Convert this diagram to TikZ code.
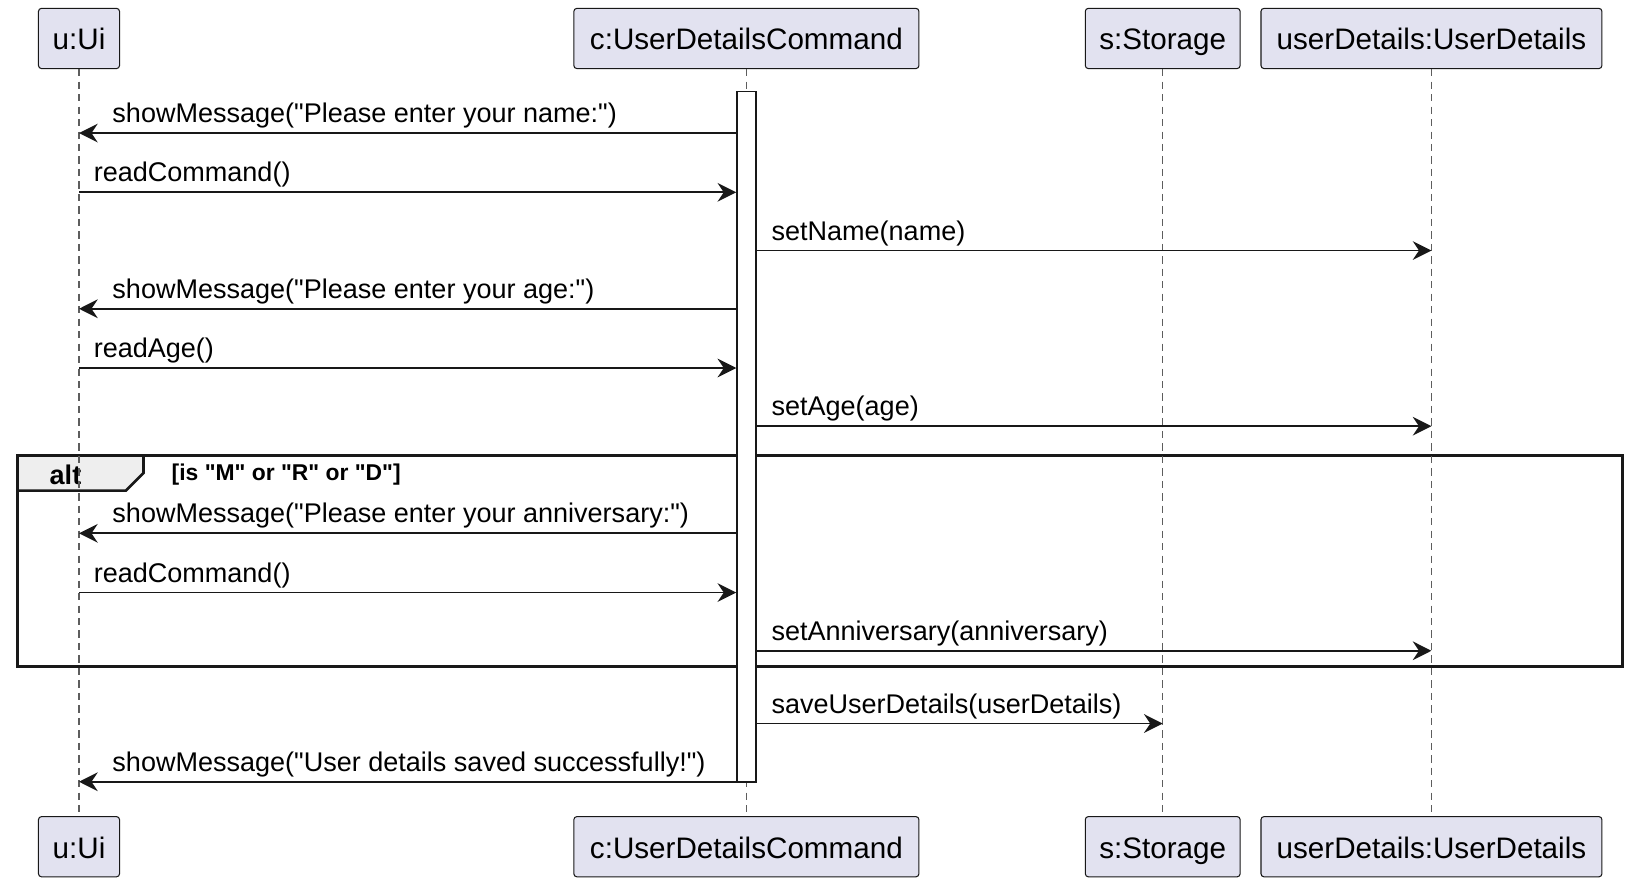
\documentclass[tikz,border=0pt]{standalone}
\usepackage{fontspec}
\setmainfont{Liberation Sans}[Ligatures=TeXOff]
\usetikzlibrary{arrows.meta}
\definecolor{headfill}{HTML}{E2E2F0}
\definecolor{ink}{HTML}{181818}
\definecolor{tabfill}{HTML}{EEEEEE}
\tikzset{
  head/.style={draw=ink, fill=headfill, rounded corners=3pt, line width=1pt,
    minimum height=58pt, inner sep=0pt, text height=24pt, text depth=2pt,
    font=\fontsize{28.5}{30}\selectfont},
  life/.style={draw=ink!70, dash pattern=on 7pt off 5pt, line width=1pt},
  actbar/.style={draw=ink, fill=white, line width=1.5pt, inner sep=0pt},
  msg/.style={draw=ink, line width=1.8pt, -{Stealth[length=18pt,width=18pt,inset=6pt]}},
  lbl/.style={anchor=base west, inner sep=0pt, font=\fontsize{26}{28}\selectfont},
}
\begin{document}
\begin{tikzpicture}[x=1pt,y=-1pt]
  \useasboundingbox (0,0) rectangle (1568,852);
  % alt frame
  \draw[ink, line width=2.5pt, fill=tabfill]
    (17,438) -- (138,438) -- (138,455) -- (121,472) -- (17,472) -- cycle;
  \draw[ink, line width=2.5pt] (17,438) rectangle (1561,641);
  \node[font=\bfseries\fontsize{26}{28}\selectfont, inner sep=0pt] (alt) at (63,457) {alt};
  \node[font=\bfseries\fontsize{22}{24}\selectfont, anchor=west, inner sep=0pt] (cond) at (165,457) {[is "M" or "R" or "D"]};
  % participants
  \node[head, minimum width=78pt] (uiT) at (76,37) {u:Ui};
  \node[head, minimum width=332pt] (cT) at (718,37) {c:UserDetailsCommand};
  \node[head, minimum width=149pt] (sT) at (1118.5,37) {s:Storage};
  \node[head, minimum width=328pt] (udT) at (1377,37) {userDetails:UserDetails};
  \node[head, minimum width=78pt] (uiB) at (76,814.5) {u:Ui};
  \node[head, minimum width=332pt] (cB) at (718,814.5) {c:UserDetailsCommand};
  \node[head, minimum width=149pt] (sB) at (1118.5,814.5) {s:Storage};
  \node[head, minimum width=328pt] (udB) at (1377,814.5) {userDetails:UserDetails};
  \foreach \p in {ui,c,s,ud}
    \draw[life] (\p T) -- (\p B);
  % activation
  \node[actbar, minimum width=18pt, minimum height=664pt] (act) at (718,420) {};
  % messages
  \foreach \y/\from/\to/\x/\txt in {
      128/act.west/uiT/108/{showMessage("Please enter your name:")},
      185/uiT/act.west/90/{readCommand()},
      241/act.east/udT/742/{setName(name)},
      297/act.west/uiT/108/{showMessage("Please enter your age:")},
      354/uiT/act.west/90/{readAge()},
      410/act.east/udT/742/{setAge(age)},
      513/act.west/uiT/108/{showMessage("Please enter your anniversary:")},
      570/uiT/act.west/90/{readCommand()},
      626/act.east/udT/742/{setAnniversary(anniversary)},
      696/act.east/sT/742/{saveUserDetails(userDetails)},
      752/act.west/uiT/108/{showMessage("User details saved successfully!")}}
  {
    \draw[msg] (\from |- 0,\y) -- (\to |- 0,\y);
    \node[lbl] at (\x,\y-10) {\txt};
  }
\end{tikzpicture}
\end{document}
